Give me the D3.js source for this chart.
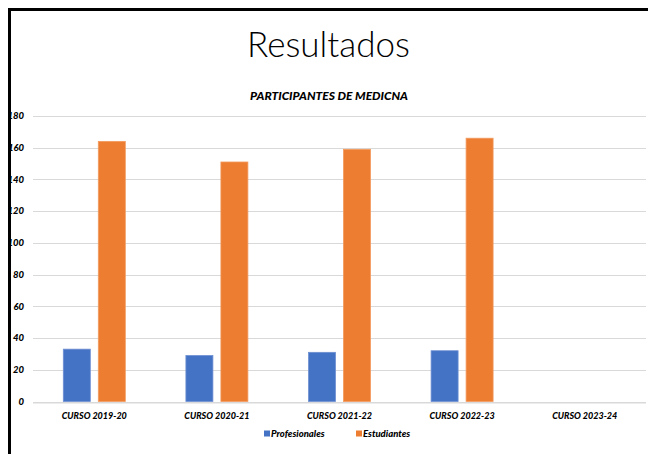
<!DOCTYPE html>
<html><head><meta charset="utf-8">
<script src="https://cdn.jsdelivr.net/npm/d3@7"></script>
<style>
html,body{margin:0;padding:0;background:#fff;overflow:hidden;width:648px;height:454px;}
svg{display:block;overflow:hidden;}
</style></head>
<body>
<svg id="c" width="648" height="454"></svg>
<script>
const categories = ["CURSO 2019-20","CURSO 2020-21","CURSO 2021-22","CURSO 2022-23","CURSO 2023-24"];
const seriesNames = ["Profesionales","Estudiantes"];
const profesionales = [33,29,31,32,null];
const estudiantes = [164,151,159,166,null];
const yTicks = [0,20,40,60,80,100,120,140,160,180];
const colors = ["#4472C4","#ED7D31"];

const FONT = "Lato, 'Open Sans', sans-serif";
const svg = d3.select("#c");
const W = 648, H = 454;
svg.append("rect").attr("width",W).attr("height",H).attr("fill","#fff");

const x0 = d3.scaleBand().domain(categories).range([33,646]).paddingInner(0).paddingOuter(0);
const x1 = d3.scaleBand().domain(seriesNames).range([0,62]).paddingInner(8/35).paddingOuter(0);
const y = d3.scaleLinear().domain([0,180]).range([401.5,116]);

// gridlines
svg.append("g").selectAll("rect").data(yTicks).join("rect")
  .attr("x",33).attr("width",613)
  .attr("y",d=>Math.round(y(d))).attr("height",d=>d===0?1.5:1)
  .attr("fill","#D9D9D9");

// y tick labels
svg.append("g").selectAll("text").data(yTicks).join("text")
  .attr("x",24).attr("y",d=>y(d)).attr("dy","0.35em")
  .attr("text-anchor","end")
  .attr("font-family",FONT).attr("font-weight","900").attr("font-style","italic")
  .attr("font-size","9.5px").attr("fill","#000")
  .text(d=>d);

// bars
const rows = categories.map((c,i)=>({cat:c, vals:[profesionales[i],estudiantes[i]]}));
const g = svg.append("g").selectAll("g").data(rows).join("g")
  .attr("transform",d=>`translate(${x0(d.cat)+x0.bandwidth()/2-31},0)`);
g.selectAll("rect").data(d=>d.vals.map((v,j)=>({s:seriesNames[j],v,j})).filter(e=>e.v!=null)).join("rect")
  .attr("x",e=>x1(e.s)).attr("width",x1.bandwidth())
  .attr("y",e=>y(e.v)).attr("height",e=>y(0)-y(e.v))
  .attr("fill",e=>colors[e.j])
  .attr("stroke",e=>e.j===0?"#6e8fd3":"#f29a5e").attr("stroke-width",0.8);

// x labels
svg.append("g").selectAll("text").data(categories).join("text")
  .attr("x",d=>x0(d)+x0.bandwidth()/2).attr("y",416).attr("dy","0.35em")
  .attr("text-anchor","middle")
  .attr("font-family",FONT).attr("font-weight","900").attr("font-style","italic")
  .attr("font-size","9px").attr("fill","#000")
  .text(d=>d);

// legend
const legendX = [264,356];
const lg = svg.append("g").selectAll("g").data(seriesNames).join("g")
  .attr("transform",(d,i)=>`translate(${legendX[i]},434)`);
lg.append("rect").attr("x",0).attr("y",-3.5).attr("width",6).attr("height",6).attr("fill",(d,i)=>colors[i]);
lg.append("text").attr("x",7).attr("y",0).attr("dy","0.35em")
  .attr("font-family",FONT).attr("font-weight","900").attr("font-style","italic")
  .attr("font-size","9.5px").attr("fill","#000").text(d=>d);

// title
svg.append("text").attr("x",328.5).attr("y",57).attr("text-anchor","middle")
  .attr("font-family",FONT).attr("font-weight","300")
  .attr("font-size","35px").attr("fill","#000").text("Resultados");

// chart title
svg.append("text").attr("x",329).attr("y",96).attr("dy","0.35em").attr("text-anchor","middle")
  .attr("font-family",FONT).attr("font-weight","900").attr("font-style","italic")
  .attr("font-size","12px").attr("fill","#000").text("PARTICIPANTES DE MEDICNA");

// slide border (top and left)
svg.append("rect").attr("x",8).attr("y",8).attr("width",W-8).attr("height",3).attr("fill","#000");
svg.append("rect").attr("x",8).attr("y",8).attr("width",3).attr("height",H-8).attr("fill","#000");
</script>
</body></html>
